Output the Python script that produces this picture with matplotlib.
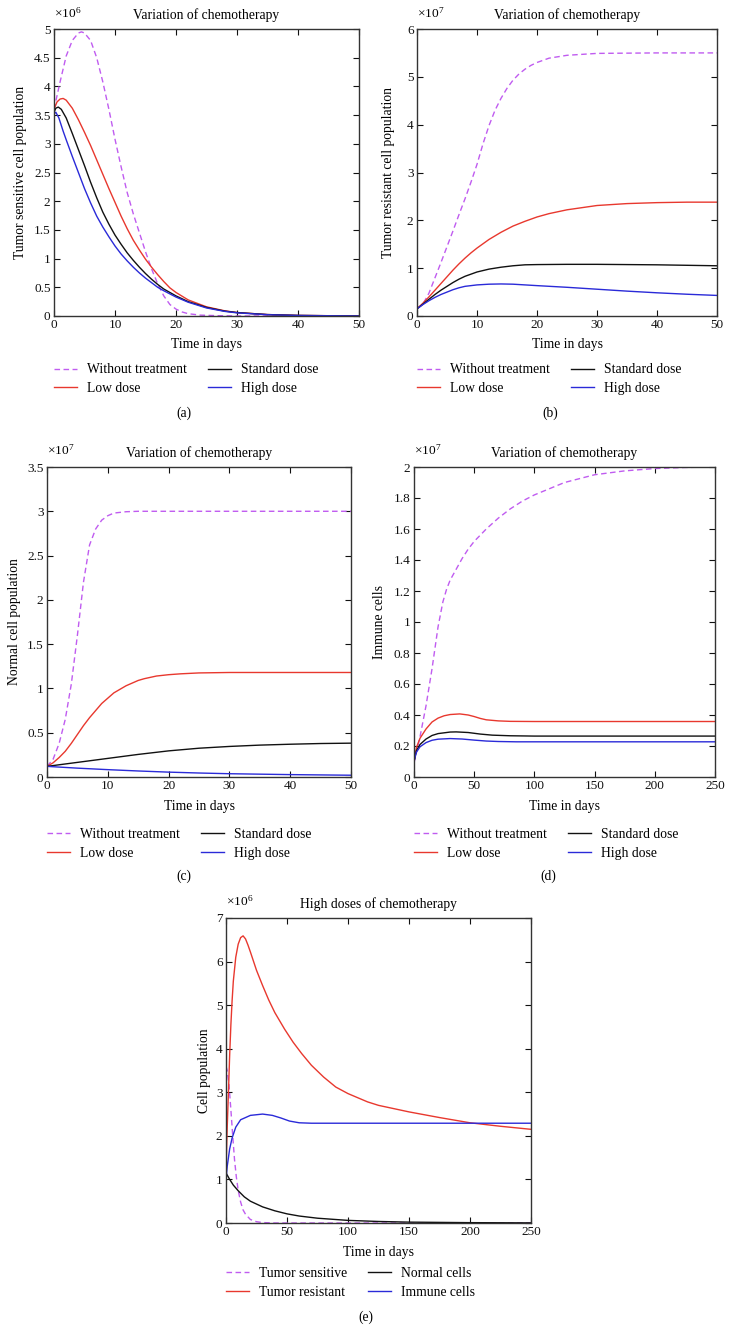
import matplotlib
matplotlib.use("Agg")
import matplotlib.pyplot as plt
import matplotlib.ticker as ticker

plt.rcParams['font.family'] = ['Liberation Serif', 'DejaVu Serif']
plt.rcParams['mathtext.fontset'] = 'custom'
plt.rcParams['mathtext.rm'] = 'Liberation Serif'
plt.rcParams['mathtext.it'] = 'Liberation Serif:italic'

W, H = 736, 1344

C_WO = '#c05cf0'   # without treatment / tumor sensitive (dashed)
C_LOW = '#e8382e'
C_STD = '#111111'
C_HIGH = '#2a2ad8'

# ---------------- panel (a): tumor sensitive, x10^6 ----------------
a_wo_t = [0, 1, 2, 3, 4, 4.5, 5, 6, 7, 8, 9, 10, 11, 12, 13, 14, 15, 16, 17, 18, 19, 20, 21, 22, 24, 27, 30, 50]
a_wo = [3.6, 4.08, 4.53, 4.8, 4.93, 4.95, 4.93, 4.8, 4.5, 4.08, 3.6, 3.08, 2.6, 2.15, 1.78, 1.45, 1.12, 0.82, 0.56, 0.35, 0.2, 0.12, 0.07, 0.04, 0.015, 0.005, 0, 0]
a_low_t = [0, 0.5, 1, 1.5, 2, 3, 4, 5, 6, 7, 8, 9, 10, 11, 12, 13, 14, 15, 16, 17, 18, 19, 20, 22, 25, 28, 30, 35, 40, 50]
a_low = [3.6, 3.73, 3.78, 3.79, 3.76, 3.62, 3.42, 3.2, 2.97, 2.72, 2.47, 2.22, 1.98, 1.74, 1.52, 1.32, 1.15, 0.99, 0.85, 0.72, 0.6, 0.49, 0.41, 0.28, 0.16, 0.09, 0.06, 0.025, 0.01, 0]
a_std_t = [0, 0.3, 0.7, 1.2, 2, 3, 4, 5, 6, 7, 8, 9, 10, 11, 12, 13, 14, 15, 16, 17, 18, 20, 22, 25, 28, 30, 35, 40, 50]
a_std = [3.55, 3.62, 3.64, 3.6, 3.45, 3.18, 2.9, 2.62, 2.33, 2.06, 1.81, 1.6, 1.41, 1.25, 1.1, 0.97, 0.85, 0.74, 0.64, 0.55, 0.47, 0.35, 0.25, 0.15, 0.085, 0.06, 0.025, 0.01, 0]
a_high_t = [0, 0.3, 0.8, 1.5, 2, 3, 4, 5, 6, 7, 8, 9, 10, 11, 12, 13, 14, 15, 16, 17, 18, 20, 22, 25, 28, 30, 35, 40, 50]
a_high = [3.52, 3.55, 3.45, 3.22, 3.07, 2.78, 2.5, 2.22, 1.97, 1.74, 1.55, 1.38, 1.22, 1.08, 0.96, 0.85, 0.75, 0.66, 0.58, 0.5, 0.44, 0.33, 0.24, 0.14, 0.08, 0.055, 0.022, 0.009, 0]

# ---------------- panel (b): tumor resistant, x10^7 ----------------
b_wo_t = [0, 1, 2, 3, 4, 5, 6, 7, 8, 9, 10, 11, 12, 13, 14, 15, 16, 17, 18, 19, 20, 22, 25, 30, 40, 50]
b_wo = [0.15, 0.25, 0.48, 0.8, 1.12, 1.45, 1.78, 2.12, 2.45, 2.8, 3.17, 3.6, 3.98, 4.3, 4.55, 4.76, 4.93, 5.06, 5.16, 5.24, 5.3, 5.39, 5.45, 5.49, 5.5, 5.5]
b_low_t = [0, 1, 2, 3, 4, 5, 6, 7, 8, 9, 10, 12, 14, 16, 18, 20, 22, 25, 30, 35, 40, 45, 50]
b_low = [0.15, 0.27, 0.4, 0.54, 0.68, 0.82, 0.96, 1.09, 1.21, 1.32, 1.42, 1.6, 1.75, 1.88, 1.98, 2.07, 2.14, 2.22, 2.31, 2.35, 2.37, 2.38, 2.38]
b_std_t = [0, 1, 2, 3, 4, 5, 6, 7, 8, 10, 12, 14, 16, 18, 20, 25, 30, 35, 40, 45, 50]
b_std = [0.15, 0.25, 0.35, 0.45, 0.54, 0.62, 0.7, 0.77, 0.83, 0.92, 0.98, 1.02, 1.05, 1.07, 1.075, 1.08, 1.08, 1.075, 1.07, 1.06, 1.05]
b_high_t = [0, 1, 2, 3, 4, 5, 6, 7, 8, 10, 12, 14, 16, 18, 20, 25, 30, 35, 40, 45, 50]
b_high = [0.15, 0.24, 0.32, 0.39, 0.45, 0.5, 0.55, 0.59, 0.62, 0.65, 0.665, 0.67, 0.665, 0.65, 0.635, 0.6, 0.56, 0.52, 0.485, 0.455, 0.43]

# ---------------- panel (c): normal cells, x10^7 ----------------
c_wo_t = [0, 1, 2, 3, 4, 5, 6, 7, 8, 9, 10, 11, 13, 15, 50]
c_wo = [0.12, 0.2, 0.38, 0.65, 1.05, 1.6, 2.2, 2.62, 2.8, 2.9, 2.95, 2.98, 2.995, 3.0, 3.0]
c_low_t = [0, 1, 2, 3, 4, 5, 6, 7, 8, 9, 10, 11, 12, 13, 14, 15, 16, 18, 20, 22, 25, 30, 40, 50]
c_low = [0.12, 0.16, 0.22, 0.29, 0.38, 0.48, 0.58, 0.67, 0.75, 0.83, 0.89, 0.95, 0.99, 1.03, 1.06, 1.09, 1.11, 1.14, 1.155, 1.165, 1.175, 1.18, 1.18, 1.18]
c_std_t = [0, 5, 10, 15, 20, 25, 30, 35, 40, 45, 50]
c_std = [0.12, 0.165, 0.21, 0.255, 0.295, 0.325, 0.345, 0.36, 0.37, 0.378, 0.382]
c_high_t = [0, 5, 10, 15, 20, 25, 30, 40, 50]
c_high = [0.12, 0.1, 0.083, 0.068, 0.055, 0.045, 0.037, 0.027, 0.02]

# ---------------- panel (d): immune cells, x10^7 ----------------
d_wo_t = [0, 5, 10, 15, 20, 24, 27, 30, 35, 40, 45, 50, 60, 70, 80, 90, 100, 125, 150, 175, 200, 225, 250]
d_wo = [0.09, 0.26, 0.46, 0.7, 0.97, 1.13, 1.21, 1.27, 1.34, 1.41, 1.47, 1.52, 1.6, 1.67, 1.73, 1.78, 1.82, 1.9, 1.95, 1.975, 1.99, 1.997, 2.0]
d_low_t = [0, 2, 5, 10, 15, 20, 25, 30, 38, 45, 50, 55, 60, 70, 80, 100, 250]
d_low = [0.1, 0.19, 0.25, 0.31, 0.355, 0.38, 0.395, 0.403, 0.407, 0.4, 0.39, 0.378, 0.369, 0.362, 0.359, 0.358, 0.358]
d_std_t = [0, 2, 5, 10, 15, 20, 30, 35, 45, 55, 65, 80, 100, 250]
d_std = [0.1, 0.17, 0.21, 0.245, 0.268, 0.28, 0.29, 0.291, 0.287, 0.277, 0.27, 0.266, 0.264, 0.264]
d_high_t = [0, 2, 5, 10, 15, 20, 30, 40, 50, 60, 70, 85, 100, 250]
d_high = [0.1, 0.16, 0.195, 0.222, 0.237, 0.244, 0.248, 0.245, 0.238, 0.232, 0.229, 0.227, 0.227, 0.227]

# ---------------- panel (e): high doses, x10^6 ----------------
e_sens_t = [0, 1, 2.5, 4, 5.5, 7, 8.5, 10, 12, 14, 16, 20, 25, 30, 40, 250]
e_sens = [3.6, 3.5, 3.15, 2.6, 2.0, 1.45, 1.05, 0.75, 0.48, 0.3, 0.2, 0.08, 0.03, 0.01, 0.0, 0.0]
e_res_t = [0, 1, 2, 3, 4, 5, 6, 8, 10, 12, 14, 16, 18, 20, 25, 30, 35, 40, 48, 55, 62, 70, 80, 90, 100, 116, 125, 150, 175, 200, 225, 250]
e_res = [1.25, 2.2, 3.0, 3.85, 4.55, 5.1, 5.55, 6.1, 6.4, 6.55, 6.59, 6.52, 6.38, 6.22, 5.8, 5.45, 5.12, 4.83, 4.45, 4.15, 3.89, 3.62, 3.35, 3.12, 2.97, 2.78, 2.7, 2.55, 2.42, 2.3, 2.22, 2.15]
e_norm_t = [0, 3, 6, 10, 15, 20, 30, 40, 50, 60, 75, 100, 125, 150, 200, 250]
e_norm = [1.15, 1.0, 0.87, 0.74, 0.6, 0.5, 0.37, 0.28, 0.21, 0.16, 0.11, 0.06, 0.035, 0.02, 0.008, 0.003]
e_imm_t = [0, 1, 3, 5, 8, 12, 20, 30, 38, 45, 52, 60, 70, 250]
e_imm = [1.0, 1.3, 1.7, 1.95, 2.2, 2.37, 2.47, 2.5, 2.47, 2.41, 2.34, 2.3, 2.29, 2.29]

dose_labels = ['Without treatment', 'Low dose', 'Standard dose', 'High dose']
cell_labels = ['Tumor sensitive', 'Tumor resistant', 'Normal cells', 'Immune cells']

fig = plt.figure(figsize=(W / 100, H / 100), dpi=100)


def px_axes(l, t, r, b):
    return fig.add_axes([l / W, 1 - b / H, (r - l) / W, (b - t) / H])


def fmt(v, _):
    return '{:g}'.format(round(v, 3))


def panel(box, series, labels, xmax, xstep, ymax, ystep, expo, title, ylabel, ylab_x, caption, cap_xy, leg_dy=-0.165):
    ax = px_axes(*box)
    styles = [dict(color=C_WO, ls=(0, (4, 2.5))), dict(color=C_LOW), dict(color=C_STD), dict(color=C_HIGH)]
    for (t, v), st, lab in zip(series, styles, labels):
        ax.plot(t, v, lw=1.0, label=lab, **st)
    ax.set_xlim(0, xmax)
    ax.set_ylim(0, ymax)
    ax.set_xticks([i * xstep for i in range(int(round(xmax / xstep)) + 1)])
    ax.set_yticks([i * ystep for i in range(int(round(ymax / ystep)) + 1)])
    ax.xaxis.set_major_formatter(ticker.FuncFormatter(fmt))
    ax.yaxis.set_major_formatter(ticker.FuncFormatter(fmt))
    ax.tick_params(direction='in', top=True, right=True, length=4, width=0.8,
                   labelsize=9.5, pad=2.5, colors='#111111')
    for s in ax.spines.values():
        s.set_linewidth(1.0)
        s.set_color('#333333')
    ax.set_title(title, fontsize=9.8, pad=7)
    ax.text(0, 1.03, r'$\times10^{%d}$' % expo, transform=ax.transAxes,
            ha='left', va='bottom', fontsize=9.6)
    ax.set_xlabel('Time in days', fontsize=9.8)
    ax.xaxis.set_label_coords(0.5, -0.075)
    ax.set_ylabel(ylabel, fontsize=9.8)
    ax.yaxis.set_label_coords(ylab_x, 0.5)
    ax.legend(loc='upper left', bbox_to_anchor=(0, leg_dy), ncol=2, frameon=False,
              fontsize=9.8, handlelength=1.7, handletextpad=0.75, columnspacing=1.5,
              labelspacing=0.4, borderpad=0, borderaxespad=0)
    fig.text(cap_xy[0] / W, 1 - cap_xy[1] / H, caption, ha='center', va='center', fontsize=9.8)
    return ax


panel((54, 29, 359, 316),
      [(a_wo_t, a_wo), (a_low_t, a_low), (a_std_t, a_std), (a_high_t, a_high)],
      dose_labels, 50, 10, 5, 0.5, 6, 'Variation of chemotherapy',
      'Tumor sensitive cell population', (27 - 54) / 305, '(a)', (184, 413))

panel((417, 29, 717, 316),
      [(b_wo_t, b_wo), (b_low_t, b_low), (b_std_t, b_std), (b_high_t, b_high)],
      dose_labels, 50, 10, 6, 1, 7, 'Variation of chemotherapy',
      'Tumor resistant cell population', (395 - 417) / 300, '(b)', (550, 413))

panel((47, 467, 351, 777),
      [(c_wo_t, c_wo), (c_low_t, c_low), (c_std_t, c_std), (c_high_t, c_high)],
      dose_labels, 50, 10, 3.5, 0.5, 7, 'Variation of chemotherapy',
      'Normal cell population', (21 - 47) / 304, '(c)', (184, 876))

panel((414, 467, 715, 777),
      [(d_wo_t, d_wo), (d_low_t, d_low), (d_std_t, d_std), (d_high_t, d_high)],
      dose_labels, 250, 50, 2, 0.2, 7, 'Variation of chemotherapy',
      'Immune cells', (386 - 414) / 301, '(d)', (548, 876))

panel((226, 918, 531, 1223),
      [(e_sens_t, e_sens), (e_res_t, e_res), (e_norm_t, e_norm), (e_imm_t, e_imm)],
      cell_labels, 250, 50, 7, 1, 6, 'High doses of chemotherapy',
      'Cell population', (211 - 226) / 305, '(e)', (366, 1317), leg_dy=-0.145)

fig.savefig('out.png', dpi=100)
